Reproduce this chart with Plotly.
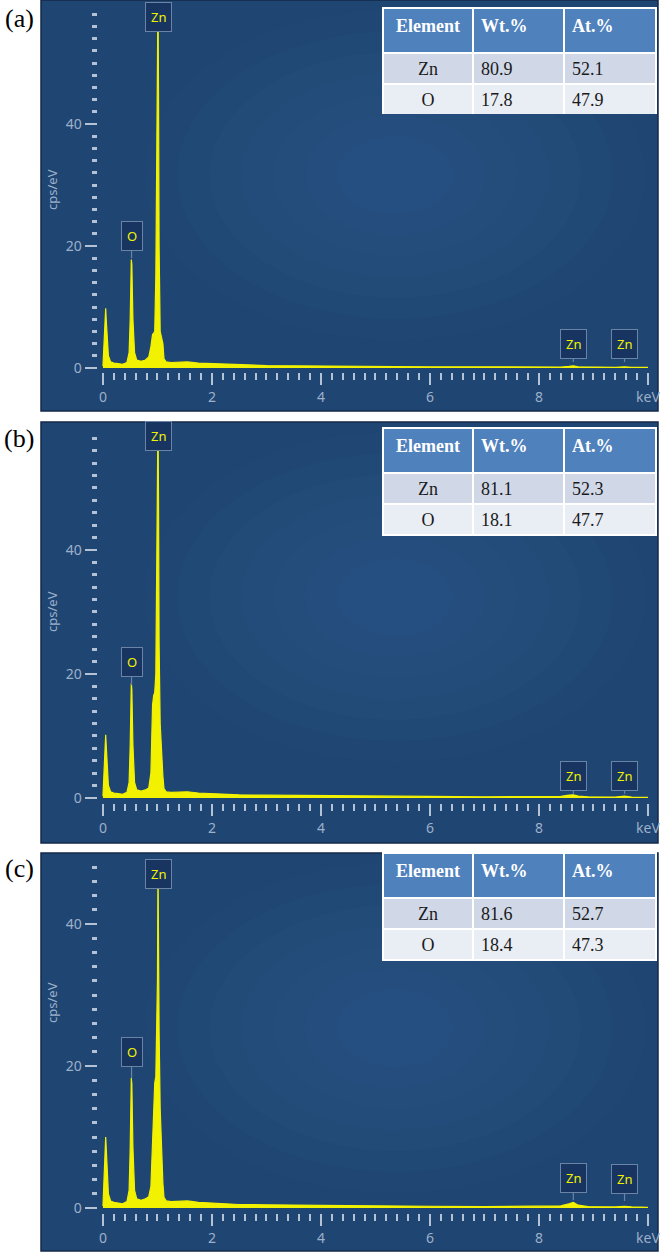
import plotly.graph_objects as go

W, H = 661, 1259

# ---------------- data ----------------
energy_keV = [0.00, 0.02, 0.04, 0.05, 0.06, 0.08, 0.10, 0.14, 0.20, 0.28, 0.36, 0.44,
              0.48, 0.50, 0.52, 0.53, 0.55, 0.58, 0.62, 0.70, 0.78, 0.84, 0.88, 0.91,
              0.93, 0.95, 0.97, 0.99, 1.00, 1.01, 1.02, 1.03, 1.05, 1.08, 1.10, 1.12,
              1.16, 1.25, 1.40, 1.55, 1.75, 2.00, 2.50, 3.00, 3.50, 4.00, 5.00, 6.00,
              7.00, 8.00, 8.40, 8.55, 8.63, 8.72, 8.90, 9.40, 9.57, 9.70, 10.00]

counts_a = [0.3, 4.0, 9.0, 9.8, 8.0, 4.0, 2.0, 1.0, 0.8, 0.7, 0.6, 0.9,
            2.5, 8.0, 17.8, 17.0, 8.0, 2.5, 1.3, 1.1, 1.3, 1.8, 3.5, 5.5,
            5.7, 6.0, 15.0, 35.0, 50.0, 62.0, 45.0, 20.0, 6.0, 5.0, 4.0, 1.5,
            1.0, 0.9, 1.0, 1.0, 0.8, 0.7, 0.5, 0.4, 0.35, 0.3, 0.25, 0.2,
            0.2, 0.15, 0.15, 0.25, 0.35, 0.2, 0.15, 0.1, 0.2, 0.1, 0.1]

counts_b = [0.3, 4.5, 9.5, 10.2, 8.5, 4.0, 2.0, 1.0, 0.8, 0.7, 0.6, 0.9,
            2.5, 8.5, 18.5, 17.5, 8.5, 2.5, 1.3, 1.1, 1.3, 1.6, 4.0, 15.0,
            16.5, 17.0, 20.0, 40.0, 52.0, 62.0, 48.0, 25.0, 12.0, 6.0, 3.5, 1.5,
            1.0, 0.9, 1.0, 1.0, 0.8, 0.7, 0.5, 0.45, 0.4, 0.35, 0.3, 0.25,
            0.2, 0.2, 0.25, 0.45, 0.5, 0.3, 0.2, 0.15, 0.3, 0.15, 0.1]

counts_c = [0.3, 4.5, 9.5, 10.0, 8.5, 4.0, 2.0, 1.0, 0.8, 0.7, 0.6, 0.9,
            2.5, 8.5, 18.3, 17.5, 8.5, 2.5, 1.3, 1.1, 1.3, 1.6, 3.0, 10.0,
            16.0, 17.6, 18.5, 31.0, 32.0, 49.0, 31.5, 25.0, 14.0, 6.0, 3.5, 1.5,
            1.0, 0.9, 1.0, 1.0, 0.8, 0.7, 0.5, 0.45, 0.4, 0.35, 0.3, 0.25,
            0.2, 0.2, 0.3, 0.6, 0.8, 0.4, 0.2, 0.15, 0.25, 0.15, 0.1]

panel_names = ["(a)", "(b)", "(c)"]

table_header = ["Element", "Wt.%", "At.%"]
elements = ["Zn", "O"]
wt_a = [80.9, 17.8]
at_a = [52.1, 47.9]
wt_b = [81.1, 18.1]
at_b = [52.3, 47.7]
wt_c = [81.6, 18.4]
at_c = [52.7, 47.3]

peak_names = ["Zn", "O", "Zn", "Zn"]
peak_energy = [1.01, 0.525, 8.63, 9.57]
peak_tip_a = [57.5, 18.0, 1.0, 1.0]
peak_tip_b = [58.4, 18.2, 0.7, 0.7]
peak_tip_c = [47.0, 18.3, 1.1, 1.0]

x_tick_labels = {"10": "keV"}

# ---------------- layout geometry (pixels) ----------------
boxes = [(41, 0, 658, 411), (41, 422, 658, 843), (41, 853, 658, 1251)]
ydom_px = [(4, 372), (432, 803), (864, 1213)]
yranges = [[-0.66, 59.7], [-0.81, 59.0], [-0.70, 48.45]]
table_px = [(8, 115), (428, 538), (853, 964)]
label_ay = [[0, -22, -18, -18], [0, -23, -18, -18], [0, -26, -22, -22]]
title_y_px = [190, 612, 1003]
name_y_px = [18, 438, 868]

counts = [counts_a, counts_b, counts_c]
wts = [wt_a, wt_b, wt_c]
ats = [at_a, at_b, at_c]
tips = [peak_tip_a, peak_tip_b, peak_tip_c]

TICK = "#b4c2d6"
LABEL = "#9db0ca"
BOX = "#1f4572"
YELLOW = "#f2f200"


def px_x(p):
    return p / W


def px_y(p):
    return 1 - p / H


fig = go.Figure()
shapes = []
annotations = []
layout_axes = {}

for i in range(3):
    sx = "" if i == 0 else str(i + 1)
    x0, y0, x1, y1 = boxes[i]
    # panel box
    shapes.append(dict(type="rect", xref="paper", yref="paper",
                       x0=px_x(x0), x1=px_x(x1), y0=px_y(y1), y1=px_y(y0),
                       fillcolor=BOX, line=dict(color="#14284a", width=1.5), layer="below"))
    # soft radial highlight
    cx, cy = 395, y0 + 175
    for k in range(7):
        rx = 250 - k * 32
        ry = 165 - k * 21
        shapes.append(dict(type="circle", xref="paper", yref="paper",
                           x0=px_x(cx - rx), x1=px_x(cx + rx),
                           y0=px_y(cy + ry), y1=px_y(cy - ry),
                           fillcolor="rgba(60,112,165,0.055)", line=dict(width=0),
                           layer="below"))

    fig.add_trace(go.Scatter(x=energy_keV, y=counts[i], mode="lines",
                             line=dict(color=YELLOW, width=1.2),
                             fill="tozeroy", fillcolor=YELLOW,
                             xaxis="x" + sx, yaxis="y" + sx,
                             showlegend=False, hoverinfo="skip"))

    layout_axes["xaxis" + sx] = dict(
        domain=[px_x(97.5), px_x(650.7)], range=[-0.1, 10.05], anchor="y" + sx,
        tick0=0, dtick=2, ticks="outside", ticklen=12, tickwidth=2, tickcolor=TICK,
        showgrid=False, zeroline=False, showline=False, labelalias=x_tick_labels,
        automargin=False,
        tickfont=dict(family="Noto Sans", size=14, color=LABEL),
        minor=dict(tick0=0, dtick=0.2, ticks="outside", ticklen=7, tickwidth=2,
                   tickcolor=TICK, showgrid=False),
        fixedrange=True)
    b, t = ydom_px[i]
    layout_axes["yaxis" + sx] = dict(
        domain=[px_y(t), px_y(b)], range=yranges[i], anchor="x" + sx,
        tick0=0, dtick=20, ticks="outside", ticklen=12, tickwidth=2, tickcolor=TICK,
        showgrid=False, zeroline=False, showline=False, automargin=False,
        tickfont=dict(family="Noto Sans", size=14, color=LABEL),
        minor=dict(tick0=0, dtick=2, ticks="outside", ticklen=5, tickwidth=3,
                   tickcolor=TICK, showgrid=False),
        fixedrange=True)

    # y title
    annotations.append(dict(text="cps/eV", xref="paper", yref="paper",
                            x=px_x(52), y=px_y(title_y_px[i]), showarrow=False,
                            xanchor="center", yanchor="middle",
                            textangle=-90, font=dict(family="Noto Sans", size=13, color=LABEL)))
    # panel name
    annotations.append(dict(text=panel_names[i], xref="paper", yref="paper",
                            x=px_x(19), y=px_y(name_y_px[i]), showarrow=False,
                            xanchor="center", yanchor="middle",
                            font=dict(family="Liberation Serif", size=26, color="black")))

    # peak labels
    for j, name in enumerate(peak_names):
        common = dict(text=name, xref="x" + sx, yref="y" + sx,
                      x=peak_energy[j], y=tips[i][j],
                      bgcolor="#173560", bordercolor="#6b84a6", borderwidth=1,
                      borderpad=5, font=dict(family="Noto Sans", size=13, color=YELLOW))
        if label_ay[i][j] == 0:
            annotations.append(dict(**common, showarrow=False))
        else:
            annotations.append(dict(**common, showarrow=True, arrowhead=0,
                                    arrowwidth=1.2, arrowcolor="#6b84a6",
                                    ax=0, ay=label_ay[i][j]))

    # composition table
    tt, tb = table_px[i]
    nrow = len(elements)
    fig.add_trace(go.Table(
        domain=dict(x=[px_x(383), px_x(656)], y=[px_y(tb), px_y(tt)]),
        columnwidth=[90, 91, 92],
        header=dict(values=[f"<b>{h}</b>" for h in table_header],
                    fill_color="#4f81bd", align=["center", "left", "left"],
                    font=dict(family="Liberation Serif", size=18, color="white"),
                    line=dict(color="white", width=1.5), height=45),
        cells=dict(values=[elements, wts[i], ats[i]], format=["", ".1f", ".1f"],
                   fill_color=[["#d0d8e8", "#e9edf4"][:nrow]] * 3,
                   align=["center", "left", "left"],
                   font=dict(family="Liberation Serif", size=18, color="#1a1a1a"),
                   line=dict(color="white", width=1.5), height=31)))

fig.update_layout(width=W, height=H, margin=dict(l=0, r=0, t=0, b=0, autoexpand=False),
                  paper_bgcolor="white", plot_bgcolor="rgba(0,0,0,0)",
                  shapes=shapes, annotations=annotations, showlegend=False,
                  **layout_axes)

fig.write_html("out.html", config={"displayModeBar": False},
               post_script="document.body.style.margin='0';document.body.style.overflow='hidden';")
